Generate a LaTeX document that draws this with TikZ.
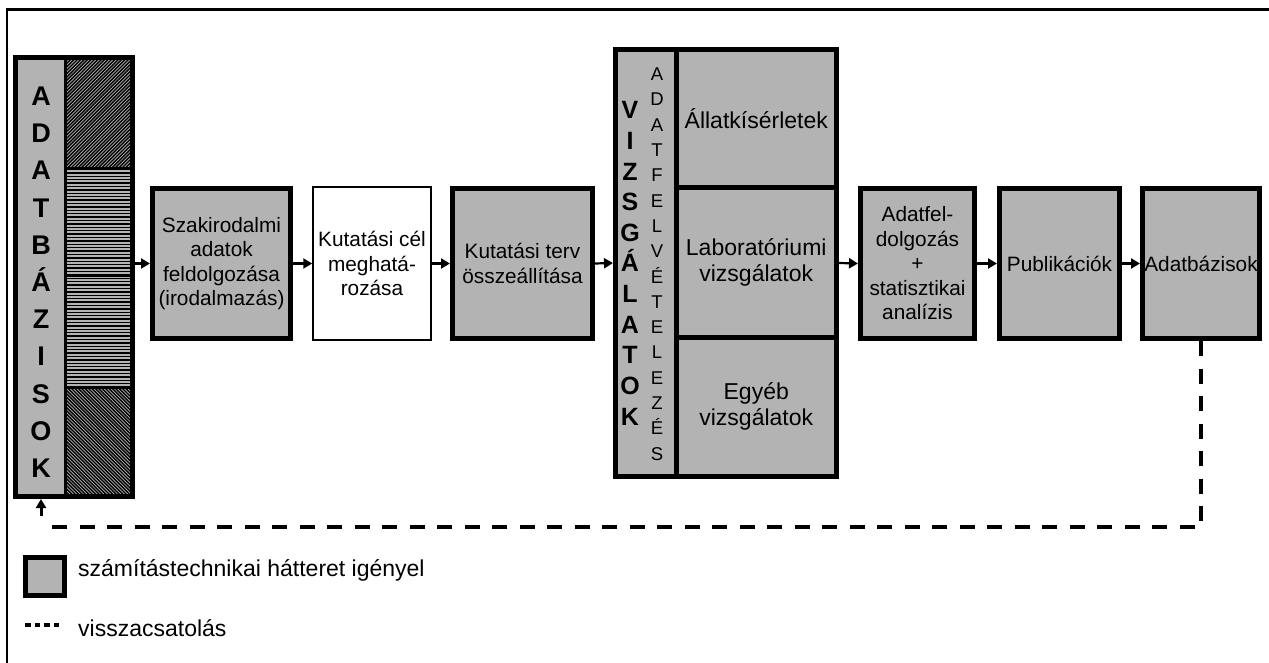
\documentclass[tikz,border=0pt]{standalone}
\usepackage{fontspec}
\setmainfont{Liberation Sans}
\usetikzlibrary{arrows.meta}
\definecolor{boxgray}{RGB}{179,179,179}

\begin{document}
\begin{tikzpicture}[
    x=1pt, y=-1pt,
    stepbox/.style={draw, line width=5pt, fill=boxgray, inner sep=0pt, align=center, font=\fontsize{20.8}{24.5}\selectfont},
    plainbox/.style={draw, line width=1.5pt, fill=white, inner sep=0pt, align=center, font=\fontsize{20.8}{24.5}\selectfont},
    subbox/.style={stepbox, font=\fontsize{23}{26}\selectfont},
    arr/.style={line width=2.2pt, -{Triangle[length=9pt,width=10pt]}},
    feedback/.style={line width=3.5pt, dash pattern=on 15pt off 12.5pt},
    hatch/.style={line width=1.4pt},
    bigletter/.style={font=\fontsize{27}{27}\selectfont\bfseries, inner sep=0pt, anchor=base},
    midletter/.style={font=\fontsize{25}{25}\selectfont\bfseries, inner sep=0pt, anchor=base},
    smallletter/.style={font=\fontsize{18.5}{18.5}\selectfont, inner sep=0pt, anchor=base},
    legtext/.style={font=\fontsize{23}{24}\selectfont, inner sep=0pt, anchor=base west}
]
  \useasboundingbox (0,0) rectangle (1269,663);

  % Frame (top and left only)
  \draw[line width=2.5pt] (7,663) -- (7,9.5) -- (1269,9.5);

  % Database column: letter strip and hatched strip
  \fill[boxgray] (15.5,57.5) rectangle (65,496.5);
  \begin{scope}
    \clip (65,57.5) rectangle (132.5,168);
    \fill[boxgray] (65,57.5) rectangle (132.5,168);
    \foreach \t in {-130,-126.6,...,80} \draw[hatch] (65+\t,168) -- ++(140,-140);
  \end{scope}
  \fill[boxgray] (65,168) rectangle (132.5,388);
  \foreach \t in {169.5,172.9,...,388} \draw[hatch] (65,\t) -- (132.5,\t);
  \begin{scope}
    \clip (65,388) rectangle (132.5,496.5);
    \fill[boxgray] (65,388) rectangle (132.5,496.5);
    \foreach \t in {-130,-126.6,...,80} \draw[hatch] (65+\t,388) -- ++(140,140);
  \end{scope}
  \draw[line width=3pt] (65,57.5) -- (65,496.5);
  \foreach \t in {168,276,388} \draw[line width=2pt] (65,\t) -- (132.5,\t);
  \node[draw, line width=5pt, inner sep=0pt, minimum width=117, minimum height=439] (adatb) at (74,277) {};
  \foreach \l [count=\i from 0] in {A,D,A,T,B,Á,Z,I,S,O,K}
    \node[bigletter] (ab\i) at (41,105.5+37.2*\i) {\l};

  % Main row
  \node[stepbox, minimum width=138, minimum height=150] (szak) at (221.5,263.5) {Szakirodalmi\\adatok\\feldolgozása\\(irodalmazás)};
  \node[plainbox, minimum width=118, minimum height=153] (kcel) at (372,263.5) {Kutatási cél\\meghatá-\\rozása};
  \node[stepbox, minimum width=140, minimum height=150] (kterv) at (522.5,263.5) {Kutatási terv\\összeállítása};

  % Examinations block
  \node[stepbox, minimum width=221, minimum height=427] (vizsg) at (726,263) {};
  \node[subbox, minimum width=160.5, minimum height=138.5] (allat) at (756.25,118.75) {Állatkísérletek};
  \node[subbox, minimum width=160.5, minimum height=149] (labor) at (756.25,262.5) {Laboratóriumi\\vizsgálatok};
  \node[subbox, minimum width=160.5, minimum height=139.5] (egyeb) at (756.25,406.75) {Egyéb\\vizsgálatok};
  \foreach \l [count=\i from 0] in {V,I,Z,S,G,Á,L,A,T,O,K}
    \node[midletter] (vl\i) at (630,119+30.6*\i) {\l};
  \foreach \l [count=\i from 0] in {A,D,A,T,F,E,L,V,É,T,E,L,E,Z,É,S}
    \node[smallletter] (sl\i) at (657,80.6+25.3*\i) {\l};

  \node[stepbox, minimum width=114, minimum height=150] (adatf) at (917.5,263.5) {Adatfel-\\dolgozás\\+\\statisztikai\\analízis};
  \node[stepbox, minimum width=120, minimum height=150] (publ) at (1059.5,263.5) {Publikációk};
  \node[stepbox, minimum width=117, minimum height=150] (adatbz) at (1201,263.5) {Adatbázisok};

  % Connectors
  \draw[arr] (szak.west -| adatb.east) -- (szak.west);
  \draw[arr] (szak.east) -- (kcel.west);
  \draw[arr] (kcel.east) -- (kterv.west);
  \draw[arr] (kterv.east) -- (vizsg.west);
  \draw[arr] (vizsg.east) -- (adatf.west);
  \draw[arr] (adatf.east) -- (publ.west);
  \draw[arr] (publ.east) -- (adatbz.west);

  % Feedback loop
  \coordinate (fbc) at (41,527);
  \coordinate (fbtip) at (41,516);
  \draw[feedback] (adatbz.south) |- (fbc);
  \draw[arr, line width=3pt] (fbtip) -- (fbtip |- adatb.south);

  % Legend
  \node[stepbox, minimum width=39, minimum height=38] (legbox) at (45,576.5) {};
  \node[legtext] (legcomp) at (78,576) {számítástechnikai hátteret igényel};
  \draw[line width=4pt, dash pattern=on 5.5pt off 4pt] (25,625) -- (62,625);
  \node[legtext] (legfb) at (78,636) {visszacsatolás};

\end{tikzpicture}
\end{document}
